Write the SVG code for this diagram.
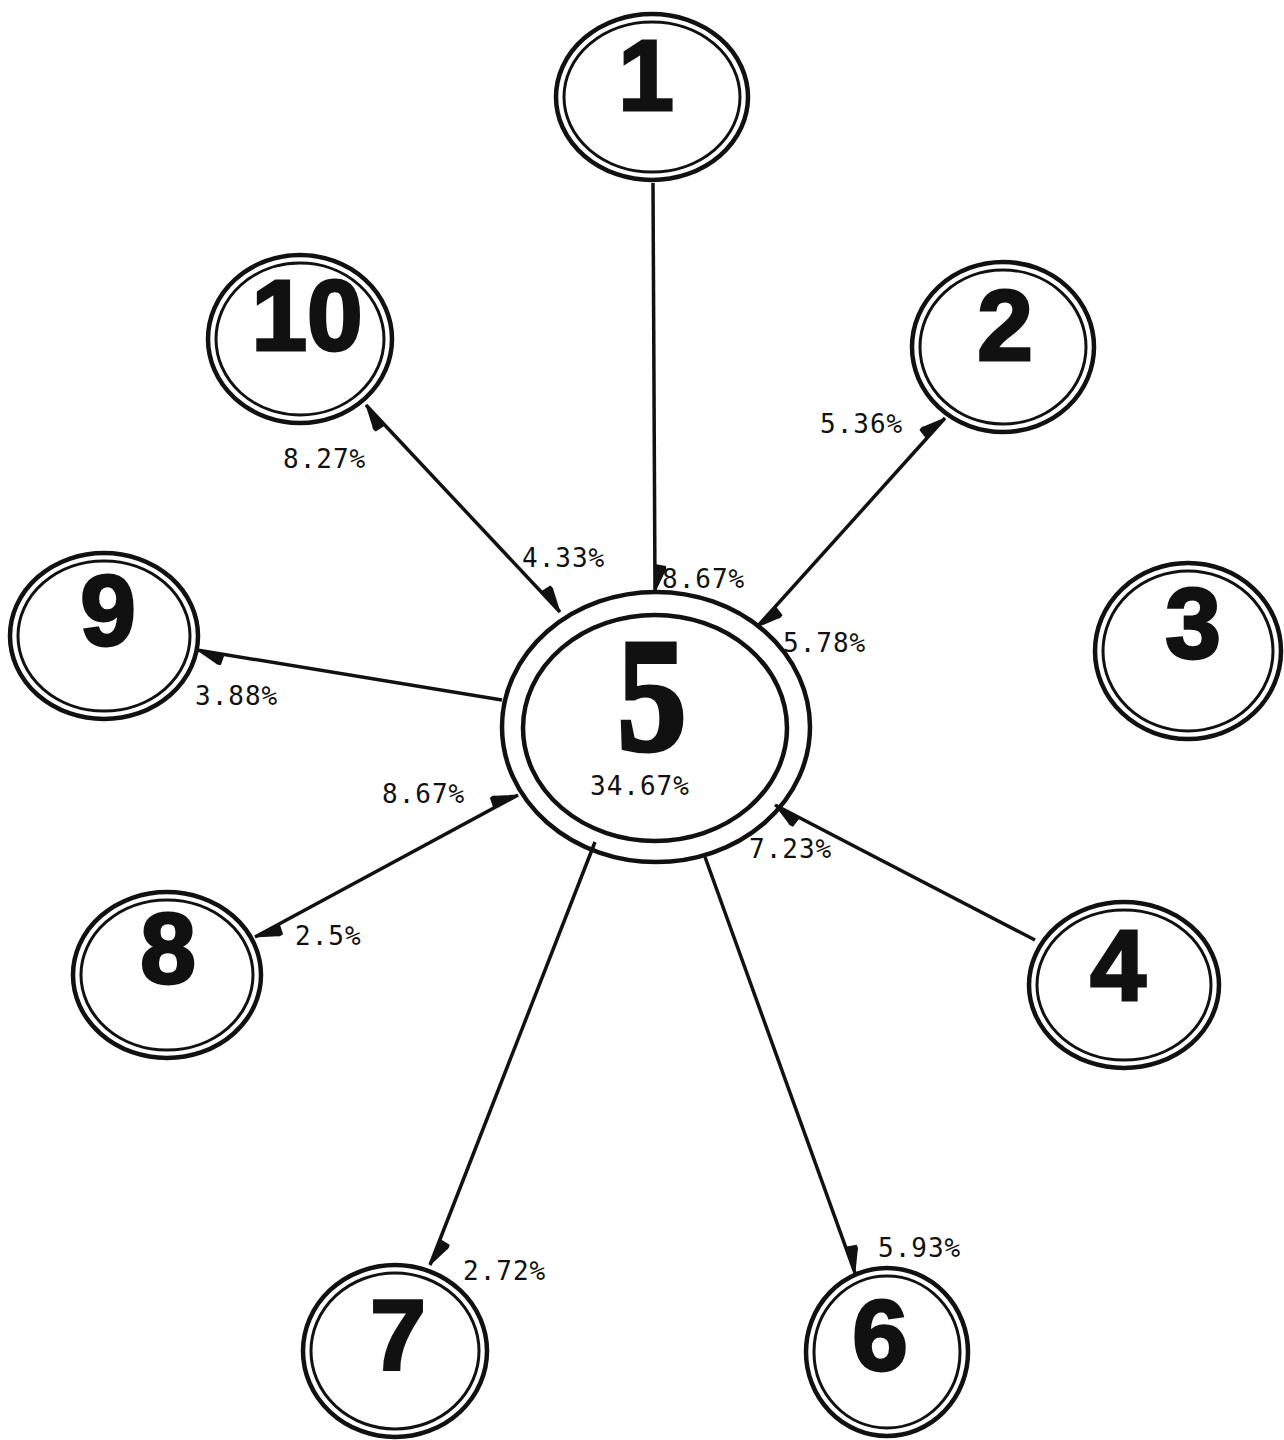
<svg xmlns="http://www.w3.org/2000/svg" width="1284" height="1440" viewBox="0 0 1284 1440">
  <style>
    .ring { fill: none; stroke: #111; stroke-width: 4.5; }
    .ring-in { fill: none; stroke: #111; stroke-width: 3; }
    .num { font-family: "Liberation Sans", Arial, sans-serif; font-weight: bold; font-size: 100px; fill: #111; stroke: #111; stroke-width: 3; text-anchor: middle; }
    .big { font-family: "Liberation Serif", "Times New Roman", serif; font-weight: bold; font-size: 160px; fill: #111; stroke: #111; stroke-width: 5; text-anchor: middle; }
    .pct { font-family: "DejaVu Sans Mono", "Liberation Mono", monospace; font-size: 26px; letter-spacing: 1px; fill: #111; }
    .edge { stroke: #111; stroke-width: 3.5; fill: none; }
    .barb { fill: #111; }
  </style>
  <defs>
    <!-- half arrowhead: a single filled barb on the left-hand side of the line -->
    <marker id="barb" markerUnits="userSpaceOnUse" markerWidth="40" markerHeight="30" refX="0" refY="0" viewBox="-34 -15 40 30" orient="auto-start-reverse" overflow="visible">
      <path class="barb" d="M1,0 L-28,0 L-26,-11 Q-22,-12 -20,-10 Z"/>
    </marker>
  </defs>

  <rect width="1284" height="1440" fill="#ffffff"/>

  <!-- connectors -->
  <g id="connectors">
    <line class="edge" x1="653" y1="183" x2="655" y2="592" marker-end="url(#barb)"/>
    <line class="edge" x1="366" y1="405" x2="560" y2="612" marker-start="url(#barb)" marker-end="url(#barb)"/>
    <line class="edge" x1="945" y1="418" x2="757" y2="627" marker-start="url(#barb)" marker-end="url(#barb)"/>
    <line class="edge" x1="197" y1="650" x2="502" y2="700" marker-start="url(#barb)"/>
    <line class="edge" x1="255" y1="937" x2="518" y2="795" marker-start="url(#barb)" marker-end="url(#barb)"/>
    <line class="edge" x1="1035" y1="940" x2="775" y2="805" marker-end="url(#barb)"/>
    <line class="edge" x1="595" y1="842" x2="430" y2="1265" marker-end="url(#barb)"/>
    <line class="edge" x1="705" y1="857" x2="855" y2="1273" marker-end="url(#barb)"/>

    <text class="pct" x="662" y="588">8.67%</text>
    <text class="pct" x="522" y="567">4.33%</text>
    <text class="pct" x="283" y="468">8.27%</text>
    <text class="pct" x="820" y="433">5.36%</text>
    <text class="pct" x="783" y="652">5.78%</text>
    <text class="pct" x="195" y="705">3.88%</text>
    <text class="pct" x="382" y="803">8.67%</text>
    <text class="pct" x="295" y="945">2.5%</text>
    <text class="pct" x="749" y="858">7.23%</text>
    <text class="pct" x="463" y="1280">2.72%</text>
    <text class="pct" x="878" y="1257">5.93%</text>
  </g>

  <!-- nodes -->
  <g id="node-1">
    <ellipse class="ring" cx="652" cy="97" rx="96" ry="83"/>
    <ellipse class="ring-in" cx="652" cy="97" rx="88" ry="75"/>
    <text class="num" x="646" y="110" font-size="106">1</text>
  </g>
  <g id="node-2">
    <ellipse class="ring" cx="1003" cy="347" rx="91" ry="85"/>
    <ellipse class="ring-in" cx="1003" cy="347" rx="83" ry="77"/>
    <text class="num" x="1005" y="360">2</text>
  </g>
  <g id="node-3">
    <ellipse class="ring" cx="1188" cy="651" rx="93" ry="88"/>
    <ellipse class="ring-in" cx="1188" cy="651" rx="85" ry="80"/>
    <text class="num" x="1193" y="658">3</text>
  </g>
  <g id="node-4">
    <ellipse class="ring" cx="1124" cy="985" rx="95" ry="83"/>
    <ellipse class="ring-in" cx="1124" cy="985" rx="87" ry="75"/>
    <text class="num" x="1118" y="1000">4</text>
  </g>
  <g id="node-5">
    <ellipse class="ring" cx="656" cy="727" rx="154" ry="135"/>
    <ellipse class="ring" cx="655" cy="728" rx="132" ry="113"/>
    <text class="big" transform="translate(652,749) scale(0.86,1)">5</text>
    <text class="pct" x="590" y="795">34.67%</text>
  </g>
  <g id="node-6">
    <ellipse class="ring" cx="887" cy="1352" rx="81" ry="84"/>
    <ellipse class="ring-in" cx="887" cy="1352" rx="73" ry="76"/>
    <text class="num" x="880" y="1370">6</text>
  </g>
  <g id="node-7">
    <ellipse class="ring" cx="395" cy="1351" rx="92" ry="86"/>
    <ellipse class="ring-in" cx="395" cy="1351" rx="84" ry="78"/>
    <text class="num" x="398" y="1370">7</text>
  </g>
  <g id="node-8">
    <ellipse class="ring" cx="167" cy="975" rx="94" ry="83"/>
    <ellipse class="ring-in" cx="167" cy="975" rx="86" ry="75"/>
    <text class="num" x="168" y="983">8</text>
  </g>
  <g id="node-9">
    <ellipse class="ring" cx="104" cy="636" rx="94" ry="83"/>
    <ellipse class="ring-in" cx="104" cy="636" rx="86" ry="75"/>
    <text class="num" x="108" y="645">9</text>
  </g>
  <g id="node-10">
    <ellipse class="ring" cx="300" cy="339" rx="92" ry="84"/>
    <ellipse class="ring-in" cx="300" cy="339" rx="84" ry="76"/>
    <text class="num" x="307" y="350">10</text>
  </g>
</svg>
